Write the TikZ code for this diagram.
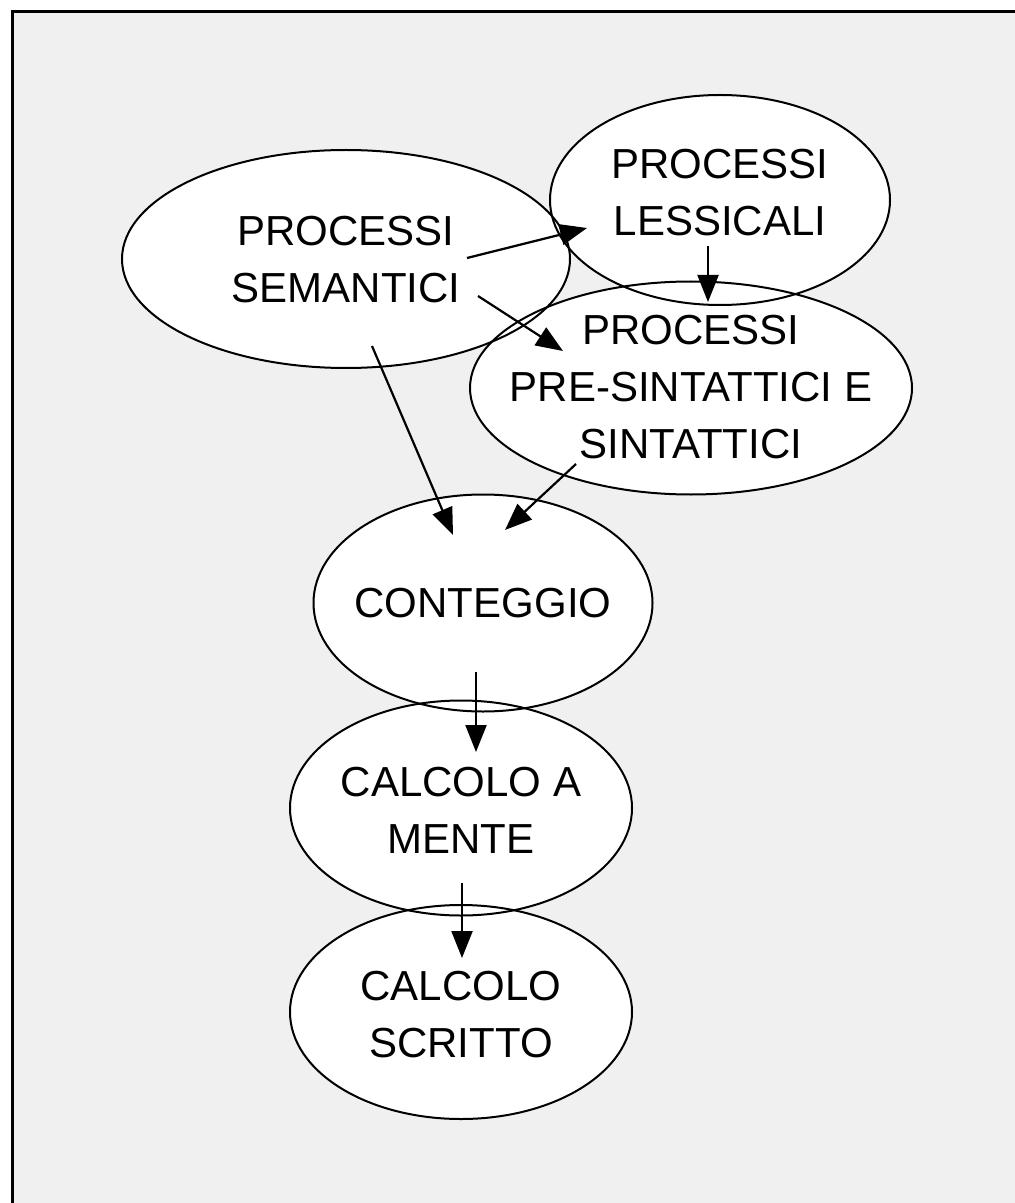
\documentclass[tikz,border=0pt]{standalone}
\usepackage{fontspec}
\setmainfont{Liberation Sans}
\usetikzlibrary{shapes.geometric,arrows.meta,calc}
\pgfdeclarelayer{fills}
\pgfsetlayers{fills,main}
\newcommand\lbl[2][0pt]{\makebox[0pt]{\smash{\raisebox{#1}{\begin{tabular}{@{}c@{}}#2\end{tabular}}}}}
\begin{document}
\begin{tikzpicture}[x=0.5pt,y=-0.5pt,
  bub/.style={ellipse, draw, line width=1pt, inner sep=0pt,
    font=\fontsize{21}{28.5}\selectfont},
  conn/.style={-{Triangle[length=13.5pt,width=10.5pt]}, line width=1.1pt},
  frameline/.style={line width=1.5pt}]
\useasboundingbox (0,0) rectangle (1015,1203);

\node[bub, minimum width=224pt, minimum height=109pt] (sem) at (346,259) {\lbl[-7pt]{PROCESSI\\SEMANTICI}};
\node[bub, minimum width=170pt, minimum height=105pt] (lex) at (720,200) {\lbl[-3pt]{PROCESSI\\LESSICALI}};
\node[bub, minimum width=221pt, minimum height=106.5pt] (syn) at (691,388) {\lbl[-6pt]{PROCESSI\\PRE-SINTATTICI E\\SINTATTICI}};
\node[bub, minimum width=169.5pt, minimum height=108.5pt] (cnt) at (483,603) {\lbl[-6.5pt]{CONTEGGIO}};
\node[bub, minimum width=171pt, minimum height=107.5pt] (men) at (461,808) {\lbl[-8pt]{CALCOLO A\\MENTE}};
\node[bub, minimum width=171pt, minimum height=107pt] (scr) at (461,1012) {\lbl[-8pt]{CALCOLO\\SCRITTO}};

\begin{pgfonlayer}{fills}
  \fill[white] (0,0) rectangle (1015,1203);
  \fill[black!6] (12,12) rectangle (1015,1203);
  \fill[white] (sem.center) ellipse [x radius=112pt, y radius=54.5pt];
  \fill[white] (lex.center) ellipse [x radius=85pt, y radius=52.5pt];
  \fill[white] (syn.center) ellipse [x radius=110.5pt, y radius=53.25pt];
  \fill[white] (cnt.center) ellipse [x radius=84.75pt, y radius=54.25pt];
  \fill[white] (men.center) ellipse [x radius=85.5pt, y radius=53.75pt];
  \fill[white] (scr.center) ellipse [x radius=85.5pt, y radius=53.5pt];
\end{pgfonlayer}

\draw[frameline] (12,1203) -- (12,12) -- (1015,12);

\draw[conn] ($(sem.center)+(121,-1)$) -- ($(lex.center)+(-133,28)$);
\draw[conn] ($(sem.center)+(132,37)$) -- ($(syn.center)+(-128,-37)$);
\draw[conn] ($(lex.center)+(-12,46)$) -- ($(syn.center)+(17,-86)$);
\draw[conn] ($(sem.center)+(26,87)$) -- ($(cnt.center)+(-30,-68)$);
\draw[conn] ($(syn.center)+(-115,76)$) -- ($(cnt.center)+(22,-73)$);
\draw[conn] ($(cnt.center)+(-7,69)$) -- ($(men.center)+(15,-56)$);
\draw[conn] ($(men.center)+(1,75)$) -- ($(scr.center)+(1,-54)$);
\end{tikzpicture}
\end{document}
